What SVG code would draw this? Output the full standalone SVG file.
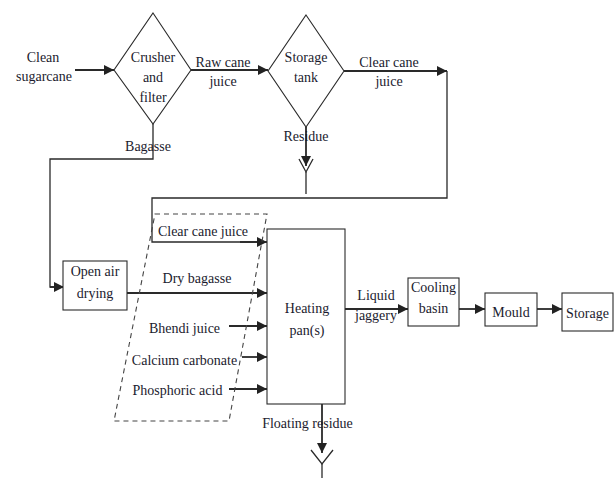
<svg xmlns="http://www.w3.org/2000/svg" width="614" height="478" viewBox="0 0 614 478">
<style>
text{font-family:"Liberation Serif","Times New Roman",serif;font-size:14px;fill:#1b1b2e;text-anchor:middle}
.shape{fill:#fff;stroke:#2a2a2a;stroke-width:1.1}
.ln{fill:none;stroke:#2a2a2a;stroke-width:1.3}
.ar{fill:none;stroke:#2a2a2a;stroke-width:1.8;marker-end:url(#ah)}
.dash{fill:none;stroke:#444;stroke-width:1.1;stroke-dasharray:5 4}
</style>
<defs>
<marker id="ah" markerUnits="userSpaceOnUse" markerWidth="11" markerHeight="10" refX="10" refY="5" orient="auto">
<path d="M0,0 L10,5 L0,10 Z" fill="#222"/>
</marker>
</defs>
<rect width="614" height="478" fill="#fff"/>
<g id="connectors">
<line class="ar" x1="75" y1="70" x2="114" y2="70"/>
<line class="ar" x1="191" y1="70" x2="268" y2="70"/>
<line class="ar" x1="344" y1="71" x2="447" y2="71"/>
<polyline class="ln" points="447,71 447,198 152,198 152,242 258,242"/>
<line class="ar" x1="240" y1="242" x2="267" y2="242"/>
<polyline class="ln" points="153,124 153,159 50,159 50,287 56,287"/>
<line class="ar" x1="50" y1="287" x2="64" y2="287"/>
<line class="ar" x1="306" y1="127" x2="306" y2="166"/>
<polyline class="ln" points="299,159 306,172 313,159"/>
<line class="ln" x1="306" y1="172" x2="306" y2="194"/>
<line class="ar" x1="127" y1="293" x2="267" y2="293"/>
<line class="ar" x1="229" y1="326" x2="267" y2="326"/>
<line class="ar" x1="242" y1="357" x2="267" y2="357"/>
<line class="ar" x1="229" y1="389" x2="267" y2="389"/>
<line class="ar" x1="322" y1="404" x2="322" y2="453"/>
<polyline class="ln" points="311,450 322,464 333,450"/>
<line class="ln" x1="322" y1="464" x2="322" y2="478"/>
<line class="ar" x1="345" y1="309" x2="408" y2="309"/>
<line class="ar" x1="459" y1="309" x2="485" y2="309"/>
<line class="ar" x1="537" y1="309" x2="562" y2="309"/>
</g>
<polygon class="dash" points="155,214 267,214 229,421 114,421"/>
<g id="clean-sugarcane">
<text x="43" y="62">Clean</text>
<text x="44" y="81">sugarcane</text>
</g>
<g id="crusher">
<polygon class="shape" points="153,13 191,70 153,124 114,70"/>
<text x="153" y="62">Crusher</text>
<text x="153" y="82">and</text>
<text x="153" y="102">filter</text>
</g>
<g id="storage-tank">
<polygon class="shape" points="306,15 344,71 306,127 268,71"/>
<text x="306" y="62">Storage</text>
<text x="306" y="82">tank</text>
</g>
<g id="labels">
<text x="223" y="67">Raw cane</text>
<text x="223" y="86">juice</text>
<text x="389" y="67">Clear cane</text>
<text x="389" y="86">juice</text>
<text x="306" y="141">Residue</text>
<text x="148" y="151">Bagasse</text>
<text x="203" y="236">Clear cane juice</text>
<text x="197" y="283">Dry bagasse</text>
<text x="184.5" y="333">Bhendi juice</text>
<text x="184.5" y="365">Calcium carbonate</text>
<text x="177.5" y="395">Phosphoric acid</text>
<text x="307.5" y="428">Floating residue</text>
<text x="376" y="300">Liquid</text>
<text x="376" y="320">jaggery</text>
</g>
<g id="open-air-drying">
<rect class="shape" x="63" y="261" width="64" height="49"/>
<text x="95" y="276">Open air</text>
<text x="95" y="298">drying</text>
</g>
<g id="heating-pans">
<rect class="shape" x="267" y="229" width="78" height="175"/>
<text x="307" y="313">Heating</text>
<text x="307" y="335">pan(s)</text>
</g>
<g id="cooling-basin">
<rect class="shape" x="408" y="278" width="51" height="48"/>
<text x="433.5" y="292">Cooling</text>
<text x="433.5" y="313">basin</text>
</g>
<g id="mould">
<rect class="shape" x="485" y="293" width="52" height="33"/>
<text x="511" y="317">Mould</text>
</g>
<g id="storage">
<rect class="shape" x="562" y="293" width="51" height="38"/>
<text x="587.5" y="318">Storage</text>
</g>
</svg>
